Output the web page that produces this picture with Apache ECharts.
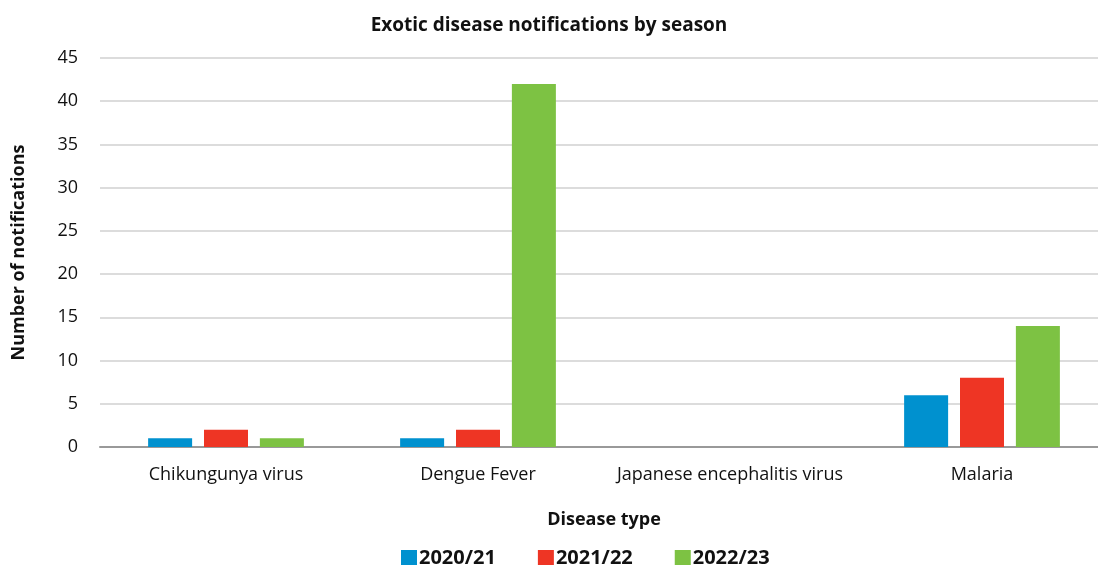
<!DOCTYPE html>
<html>
<head>
<meta charset="utf-8">
<script src="https://cdn.jsdelivr.net/npm/echarts@6/dist/echarts.min.js"></script>
<style>
  html, body { margin: 0; padding: 0; background: #fff; }
  #chart { width: 1098px; height: 565px; }
</style>
</head>
<body>
<div id="chart"></div>
<script>
// Exotic disease notifications, grouped by disease and season
const categories = ['Chikungunya virus', 'Dengue Fever', 'Japanese encephalitis virus', 'Malaria'];
const seasons = ['2020/21', '2021/22', '2022/23'];
const season2020 = [1, 1, 0, 6];
const season2021 = [2, 2, 0, 8];
const season2022 = [1, 42, 0, 14];
const yTicks = { min: 0, max: 45, interval: 5 };

const colors = ['#0091CF', '#EE3524', '#7DC243'];
const seriesValues = [season2020, season2021, season2022];
const FONT = '"Open Sans", "Liberation Sans", sans-serif';

const chart = echarts.init(document.getElementById('chart'), null, { renderer: 'canvas' });
chart.setOption({
  animation: false,
  backgroundColor: '#ffffff',
  title: {
    text: 'Exotic disease notifications by season',
    left: 'center',
    top: 11,
    textStyle: { fontFamily: FONT, fontSize: 19, fontWeight: 'bold', color: '#111' }
  },
  legend: {
    data: seasons,
    top: 543,
    left: 396,
    icon: 'rect',
    itemWidth: 16,
    itemHeight: 16,
    itemGap: 42,
    textStyle: { fontFamily: FONT, fontSize: 20, fontWeight: 'bold', color: '#111', padding: [0, 0, 0, -3] }
  },
  grid: { left: 100, top: 58, right: -10, bottom: 118, containLabel: false, outerBoundsMode: 'none' },
  xAxis: {
    type: 'category',
    data: categories,
    name: 'Disease type',
    nameLocation: 'middle',
    nameGap: 64,
    nameTextStyle: { fontFamily: FONT, fontSize: 18, fontWeight: 'bold', color: '#111' },
    axisLine: { show: true, lineStyle: { color: '#999', width: 2 } },
    axisTick: { show: false },
    axisLabel: { interval: 0, fontFamily: FONT, fontSize: 18, color: '#111', margin: 19 }
  },
  yAxis: {
    type: 'value',
    min: yTicks.min,
    max: yTicks.max,
    interval: yTicks.interval,
    name: 'Number of notifications',
    nameLocation: 'middle',
    nameGap: 72,
    nameRotate: 90,
    nameTextStyle: { fontFamily: FONT, fontSize: 18, fontWeight: 'bold', color: '#111' },
    axisLine: { show: false },
    axisTick: { show: false },
    axisLabel: { fontFamily: FONT, fontSize: 18, color: '#111', margin: 22 },
    splitLine: { lineStyle: { color: '#d0d0d0', width: 1.5 } }
  },
  series: seasons.map((name, i) => ({
    name: name,
    type: 'bar',
    data: seriesValues[i],
    barWidth: 44,
    barGap: '27%',
    itemStyle: { color: colors[i] }
  }))
});
</script>
</body>
</html>
